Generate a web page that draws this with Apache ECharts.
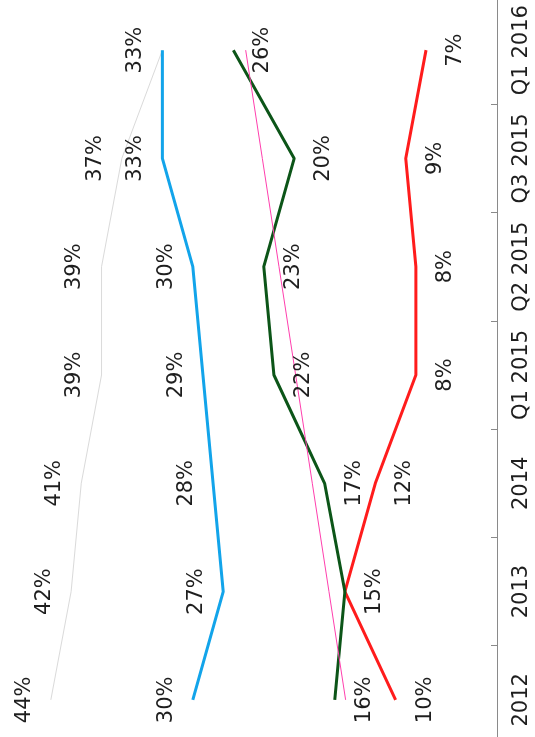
<!DOCTYPE html>
<html>
<head>
<meta charset="utf-8">
<title>Share by period</title>
<script src="https://cdn.jsdelivr.net/npm/echarts@6/dist/echarts.min.js"></script>
<style>
  html, body { margin: 0; padding: 0; background: #ffffff; overflow: hidden; width: 535px; height: 737px; }
  /* plot area runs slightly past the page edges on the left, top and bottom */
  #chart { position: absolute; left: -10px; top: -4px; width: 545px; height: 758px; }
</style>
</head>
<body>
<div id="chart"></div>
<script>
// Periods along the (vertical) category axis, earliest at the bottom
var periods = ['2012', '2013', '2014', 'Q1 2015', 'Q2 2015', 'Q3 2015', 'Q1 2016'];

// Percentage values per series
var greySeries  = [44, 42, 41, 39, 39, 37, 33];
var blueSeries  = [30, 27, 28, 29, 30, 33, 33];
var greenSeries = [16, 15, 17, 22, 23, 20, 26];
var redSeries   = [10, 15, 12, 8, 8, 9, 7];

// Least-squares linear trend of the green series
function linearTrend(values) {
  var n = values.length, sx = 0, sy = 0, sxy = 0, sxx = 0;
  for (var i = 0; i < n; i++) {
    sx += i; sy += values[i]; sxy += i * values[i]; sxx += i * i;
  }
  var slope = (n * sxy - sx * sy) / (n * sxx - sx * sx);
  var intercept = (sy - slope * sx) / n;
  return values.map(function (_, i) { return intercept + slope * i; });
}
var greenTrend = linearTrend(greenSeries);

var FONT = 'DejaVu Sans';
var TEXT = '#1e1e1e';
var FONT_SIZE = 21;

function pairs(values) {
  return values.map(function (v, i) { return [v, periods[i]]; });
}

function valueLabel(side, offset) {
  return {
    show: true,
    position: side,
    distance: offset,
    rotate: 90,
    align: 'center',
    verticalAlign: 'middle',
    color: TEXT,
    fontFamily: FONT,
    fontSize: FONT_SIZE,
    formatter: function (p) { return p.value[0] + '%'; }
  };
}

function lineSeries(name, values, color, width, side, offset) {
  return {
    name: name,
    type: 'line',
    data: pairs(values),
    showSymbol: true,
    symbol: 'circle',
    symbolSize: 1,
    // invisible point markers; they only carry the value labels
    itemStyle: { color: 'rgba(0,0,0,0)', borderWidth: 0 },
    lineStyle: { color: color, width: width },
    label: valueLabel(side, offset),
    // coinciding labels (same value at the same period) are drawn once
    labelLayout: { hideOverlap: true },
    emphasis: { disabled: true },
    animation: false
  };
}

var chart = echarts.init(document.getElementById('chart'), null, { renderer: 'canvas' });

chart.setOption({
  backgroundColor: '#ffffff',
  animation: false,
  grid: { left: 0, right: 38, top: 0, bottom: 0, containLabel: false },
  xAxis: {
    type: 'value',
    min: 0,
    max: 50,
    inverse: true,
    show: false,
    splitLine: { show: false }
  },
  yAxis: {
    type: 'category',
    data: periods,
    position: 'right',
    boundaryGap: true,
    axisLine: { show: true, lineStyle: { color: '#8a8a8a', width: 1 } },
    axisTick: { show: true, inside: true, length: 6, interval: 0, lineStyle: { color: '#8a8a8a' } },
    axisLabel: {
      interval: 0,
      rotate: 90,
      margin: 14,
      color: TEXT,
      fontFamily: FONT,
      fontSize: FONT_SIZE
    },
    splitLine: { show: false }
  },
  series: [
    lineSeries('Grey', greySeries, '#dadada', 1, 'left', 26),
    lineSeries('Blue', blueSeries, '#12a4ea', 3, 'left', 26),
    lineSeries('Red', redSeries, '#ff1c1c', 3, 'right', 29),
    lineSeries('Green', greenSeries, '#0c5518', 3, 'right', 29),
    {
      name: 'Trend',
      type: 'line',
      data: pairs(greenTrend),
      symbol: 'none',
      lineStyle: { color: '#ff3fae', width: 1 },
      label: { show: false },
      emphasis: { disabled: true },
      animation: false
    }
  ]
});
</script>
</body>
</html>
